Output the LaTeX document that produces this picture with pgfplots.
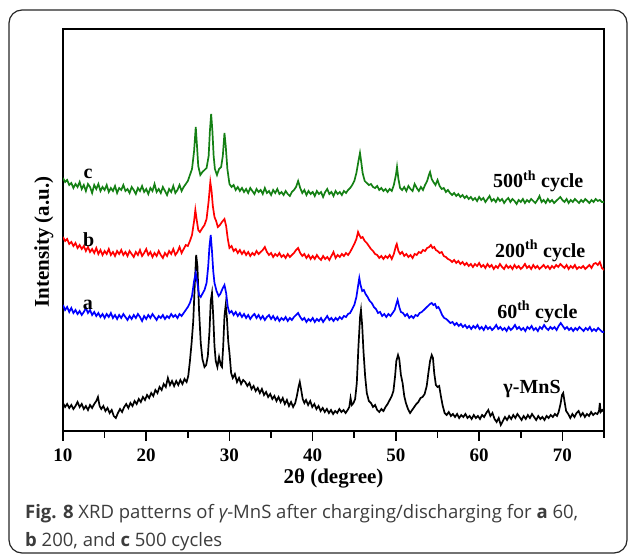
\documentclass[border=0pt]{standalone}
\usepackage{fontspec}
\setmainfont{Liberation Serif}
\newfontfamily\capfont{Open Sans}
\usepackage{pgfplots}
\pgfplotsset{compat=1.18}
\definecolor{cgreen}{RGB}{20,128,20}
\definecolor{cred}{RGB}{255,0,0}
\definecolor{cblue}{RGB}{0,0,255}
\definecolor{capgray}{RGB}{60,60,60}
\begin{document}
\begin{tikzpicture}
\useasboundingbox (0pt,0pt) rectangle (629pt,555pt);
\draw[line width=1.2pt, color=black!85, rounded corners=13pt] (9pt,2pt) rectangle (627pt,545pt);
\foreach \k in {0,...,6} {\fill[black] ({62.2pt+\k*83.23pt},114pt) rectangle ({63.8pt+\k*83.23pt},125pt);}
\foreach \k in {0,...,6} {\fill[black] ({103.8pt+\k*83.23pt},117pt) rectangle ({105.4pt+\k*83.23pt},125pt);}
\begin{axis}[
  at={(63pt,124pt)}, anchor=south west, scale only axis,
  width=541pt, height=402pt,
  xmin=10, xmax=75, ymin=0, ymax=402,
  xtick={10,20,...,70}, minor xtick={15,25,...,75}, ytick=\empty,
  xtick pos=left, tick align=outside,
  major tick length=9pt, minor tick length=6pt,
  xtick style={draw=black, line width=1.5pt},
  axis line style={line width=1.6pt},
  /pgf/number format/assume math mode=true,
  xticklabel style={font=\bfseries\fontsize{19}{22}\selectfont, anchor=base, yshift=-21pt},
  xlabel={2θ (degree)}, ylabel={Intensity (a.u.)},
  xlabel style={font=\bfseries\fontsize{21}{24}\selectfont, at={(axis description cs:0.5,0)}, anchor=base, yshift=-52pt},
  ylabel style={font=\bfseries\fontsize{21}{24}\selectfont, at={(axis description cs:-0.026,0.47)}, anchor=base},
]
\addplot[black, line width=1.7pt] coordinates {(10,28)(10.25,24)(10.5,27)(10.75,23)(11,26)(11.25,22)(11.5,25)(11.75,29)(12,24)(12.25,27)(12.5,22)(12.75,25)(13,21)(13.25,26)(13.5,23)(13.75,27)(14,30)(14.2,34)(14.4,25)(14.6,22)(14.85,25)(15.1,20)(15.35,23)(15.6,18)(15.85,21)(16.1,15)(16.35,13)(16.6,18)(16.85,22)(17.1,19)(17.35,24)(17.6,27)(17.85,23)(18.1,28)(18.35,25)(18.6,30)(18.85,27)(19.1,32)(19.35,29)(19.6,34)(19.85,31)(20.1,36)(20.35,33)(20.6,38)(20.85,35)(21.1,41)(21.35,38)(21.6,44)(21.85,41)(22.1,47)(22.35,44)(22.6,53)(22.85,46)(23.1,50)(23.35,45)(23.6,50)(23.85,46)(24.1,51)(24.35,47)(24.6,52)(24.85,49)(25.05,55)(25.25,70)(25.45,88)(25.65,110)(25.85,150)(26,176)(26.15,165)(26.35,120)(26.55,88)(26.75,72)(27,64)(27.2,66)(27.4,75)(27.6,100)(27.75,130)(27.9,138)(28.05,115)(28.2,85)(28.35,70)(28.55,64)(28.75,74)(28.95,66)(29.1,64)(29.25,85)(29.4,115)(29.55,126)(29.7,112)(29.85,90)(30,78)(30.2,58)(30.4,53)(30.65,57)(30.9,49)(31.15,53)(31.4,47)(31.65,51)(31.9,49)(32.15,45)(32.4,48)(32.65,42)(32.9,45)(33.15,40)(33.4,43)(33.65,38)(33.9,42)(34.15,36)(34.4,39)(34.65,34)(34.9,37)(35.15,32)(35.4,35)(35.65,30)(35.9,34)(36.15,29)(36.4,33)(36.65,27)(36.9,31)(37.15,25)(37.4,29)(37.65,24)(37.9,28)(38.1,35)(38.3,44)(38.45,49)(38.6,42)(38.8,32)(39,28)(39.2,31)(39.45,26)(39.7,30)(39.95,24)(40.2,27)(40.45,22)(40.7,25)(40.95,20)(41.2,23)(41.45,19)(41.7,22)(41.95,18)(42.2,21)(42.45,17)(42.7,20)(42.95,18)(43.2,22)(43.45,19)(43.7,21)(43.95,18)(44.2,21)(44.4,24)(44.55,33)(44.7,26)(44.9,28)(45.1,32)(45.3,48)(45.5,85)(45.7,115)(45.8,121)(45.95,105)(46.1,80)(46.3,55)(46.5,38)(46.75,30)(47,28)(47.25,24)(47.5,26)(47.75,21)(48,19)(48.25,22)(48.5,20)(48.75,24)(49,27)(49.25,31)(49.5,35)(49.7,40)(49.9,55)(50.05,70)(50.25,76)(50.4,72)(50.6,56)(50.8,48)(51,35)(51.2,28)(51.45,22)(51.7,18)(51.95,21)(52.2,24)(52.45,27)(52.7,29)(52.95,33)(53.2,34)(53.45,37)(53.7,45)(53.9,58)(54.1,70)(54.3,76)(54.45,73)(54.6,58)(54.8,46)(55,44)(55.2,45)(55.4,35)(55.6,26)(55.85,18)(56.1,16)(56.35,19)(56.6,15)(56.85,17)(57.1,14)(57.35,17)(57.6,13)(57.85,16)(58.1,14)(58.35,17)(58.6,13)(58.85,15)(59.1,12)(59.35,16)(59.6,13)(59.85,15)(60.1,12)(60.35,16)(60.6,14)(60.85,18)(61.1,21)(61.35,15)(61.6,18)(61.85,12)(62.1,9)(62.35,13)(62.6,6)(62.85,10)(63.1,14)(63.35,11)(63.6,15)(63.85,12)(64.1,16)(64.35,13)(64.6,17)(64.85,14)(65.1,11)(65.35,15)(65.6,12)(65.85,16)(66.1,13)(66.35,17)(66.6,14)(66.85,11)(67.1,15)(67.35,12)(67.6,14)(67.85,11)(68.1,15)(68.35,13)(68.6,16)(68.85,14)(69.1,17)(69.35,15)(69.55,19)(69.8,28)(69.95,36)(70.1,38)(70.25,30)(70.45,20)(70.7,17)(70.95,13)(71.2,17)(71.45,14)(71.7,18)(71.95,20)(72.2,15)(72.45,18)(72.7,14)(72.95,17)(73.2,15)(73.45,19)(73.7,16)(73.95,18)(74.2,17)(74.4,20)(74.5,28)(74.6,19)(74.8,21)(75,19)};
\addplot[cblue, line width=1.7pt] coordinates {(10,126)(10.25,121)(10.5,124)(10.75,119)(11,123)(11.25,118)(11.5,121)(11.75,117)(12,120)(12.25,116)(12.5,119)(12.75,123)(13,118)(13.25,121)(13.5,116)(13.75,119)(14,115)(14.25,118)(14.5,114)(14.75,117)(15,113)(15.25,117)(15.5,114)(15.75,118)(16,113)(16.25,116)(16.5,112)(16.75,116)(17,113)(17.25,117)(17.5,114)(17.75,111)(18,115)(18.25,112)(18.5,116)(18.75,113)(19,117)(19.25,114)(19.5,110)(19.75,115)(20,112)(20.25,116)(20.5,113)(20.75,117)(21,114)(21.25,111)(21.5,115)(21.75,113)(22,116)(22.25,112)(22.5,115)(22.75,113)(23,117)(23.25,114)(23.5,116)(23.75,113)(24,117)(24.25,115)(24.5,118)(24.75,121)(25,124)(25.25,128)(25.5,135)(25.75,150)(25.95,158)(26.15,148)(26.35,136)(26.55,134)(26.8,138)(27,141)(27.25,148)(27.45,165)(27.6,185)(27.75,196)(27.9,180)(28.05,160)(28.2,148)(28.45,140)(28.7,135)(28.9,137)(29.15,142)(29.4,146)(29.6,138)(29.8,124)(30,118)(30.25,120)(30.5,116)(30.75,119)(31,115)(31.25,118)(31.5,114)(31.75,117)(32,113)(32.25,116)(32.5,112)(32.75,115)(33,117)(33.25,113)(33.5,116)(33.75,112)(34,115)(34.25,111)(34.5,114)(34.75,116)(35,112)(35.25,115)(35.5,111)(35.75,114)(36,110)(36.25,113)(36.5,111)(36.75,114)(37,110)(37.25,113)(37.5,111)(37.75,114)(38,116)(38.25,118)(38.5,114)(38.75,111)(39,113)(39.25,109)(39.5,112)(39.75,110)(40,113)(40.25,109)(40.5,112)(40.75,110)(41,113)(41.25,109)(41.5,112)(41.75,115)(42,111)(42.25,113)(42.5,110)(42.75,113)(43,111)(43.25,114)(43.5,112)(43.75,115)(44,114)(44.25,117)(44.5,118)(44.75,122)(45,126)(45.25,134)(45.45,145)(45.6,153)(45.75,146)(45.95,140)(46.15,141)(46.35,137)(46.6,134)(46.85,130)(47.1,128)(47.35,124)(47.6,122)(47.85,118)(48.1,119)(48.35,115)(48.6,117)(48.85,114)(49.1,117)(49.35,115)(49.6,118)(49.85,121)(50.05,127)(50.2,131)(50.4,124)(50.6,119)(50.85,118)(51.1,115)(51.35,117)(51.6,113)(51.85,115)(52.1,113)(52.35,116)(52.6,115)(52.85,118)(53.1,119)(53.35,121)(53.6,123)(53.85,125)(54.1,127)(54.3,128)(54.5,126)(54.7,127)(54.9,123)(55.1,124)(55.3,121)(55.55,116)(55.8,113)(56.05,112)(56.3,110)(56.55,108)(56.8,109)(57.05,106)(57.3,108)(57.55,105)(57.8,107)(58.05,104)(58.3,106)(58.55,103)(58.8,105)(59.05,102)(59.3,105)(59.55,103)(59.8,106)(60.05,102)(60.3,104)(60.55,101)(60.8,105)(61.05,102)(61.3,104)(61.55,101)(61.8,103)(62.05,106)(62.3,102)(62.55,104)(62.8,101)(63.05,103)(63.3,100)(63.55,104)(63.8,101)(64.05,103)(64.3,106)(64.55,102)(64.8,104)(65.05,101)(65.3,103)(65.55,100)(65.8,104)(66.05,102)(66.3,105)(66.55,101)(66.8,103)(67.05,100)(67.3,104)(67.55,102)(67.8,106)(68.05,103)(68.3,101)(68.55,104)(68.8,102)(69.05,104)(69.3,101)(69.55,105)(69.8,108)(70.05,105)(70.3,102)(70.55,104)(70.8,101)(71.05,103)(71.3,100)(71.55,103)(71.8,101)(72.05,104)(72.3,102)(72.55,100)(72.8,103)(73.05,101)(73.3,104)(73.55,100)(73.8,102)(74.05,100)(74.3,103)(74.55,101)(74.8,99)(75,99)};
\addplot[cred, line width=1.7pt] coordinates {(10,194)(10.25,190)(10.5,192)(10.75,187)(11,189)(11.25,185)(11.5,188)(11.75,183)(12,186)(12.25,182)(12.5,185)(12.75,180)(13,184)(13.25,179)(13.5,182)(13.75,178)(14,183)(14.25,177)(14.5,181)(14.75,176)(15,180)(15.25,177)(15.5,182)(15.75,176)(16,179)(16.25,175)(16.5,180)(16.75,177)(17,181)(17.25,176)(17.5,179)(17.75,175)(18,180)(18.25,177)(18.5,174)(18.75,179)(19,176)(19.25,181)(19.5,175)(19.75,178)(20,182)(20.25,176)(20.5,179)(20.75,174)(21,178)(21.25,175)(21.5,180)(21.75,176)(22,173)(22.25,178)(22.5,175)(22.75,180)(23,177)(23.25,182)(23.5,176)(23.75,179)(24,184)(24.25,178)(24.5,182)(24.75,186)(25,185)(25.25,190)(25.5,196)(25.75,210)(25.9,221)(26.05,212)(26.25,201)(26.45,199)(26.75,203)(27,206)(27.25,212)(27.5,230)(27.7,249)(27.85,240)(28,225)(28.2,214)(28.4,210)(28.6,204)(28.85,206)(29.1,209)(29.4,212)(29.6,205)(29.8,192)(30,183)(30.25,185)(30.5,180)(30.75,182)(31,178)(31.25,181)(31.5,177)(31.75,180)(32,176)(32.25,179)(32.5,175)(32.75,178)(33,176)(33.25,180)(33.5,177)(33.75,179)(34,181)(34.25,184)(34.5,179)(34.75,176)(35,178)(35.25,174)(35.5,177)(35.75,175)(36,178)(36.25,174)(36.5,176)(36.75,173)(37,177)(37.25,174)(37.5,176)(37.75,178)(38,181)(38.25,183)(38.5,178)(38.75,175)(39,177)(39.25,173)(39.5,176)(39.75,172)(40,175)(40.25,172)(40.5,176)(40.75,173)(41,171)(41.25,175)(41.5,172)(41.75,174)(42,171)(42.25,175)(42.5,179)(42.75,173)(43,176)(43.25,174)(43.5,177)(43.75,175)(44,178)(44.25,176)(44.5,179)(44.75,183)(45,187)(45.25,192)(45.45,199)(45.6,196)(45.8,193)(46,194)(46.25,190)(46.5,188)(46.75,185)(47,182)(47.25,180)(47.5,177)(47.75,176)(48,173)(48.25,175)(48.5,172)(48.75,175)(49,173)(49.25,176)(49.5,172)(49.75,177)(50,185)(50.1,187)(50.3,180)(50.5,177)(50.75,179)(51,175)(51.25,177)(51.5,174)(51.75,176)(52,173)(52.25,177)(52.5,176)(52.75,179)(53,178)(53.25,181)(53.5,180)(53.75,183)(54,184)(54.2,186)(54.4,183)(54.6,184)(54.8,181)(55,180)(55.25,178)(55.5,179)(55.75,175)(56,174)(56.25,172)(56.5,171)(56.75,169)(57,171)(57.25,168)(57.5,170)(57.75,167)(58,169)(58.25,166)(58.5,168)(58.75,165)(59,167)(59.25,164)(59.5,167)(59.75,165)(60,168)(60.25,164)(60.5,166)(60.75,163)(61,167)(61.25,164)(61.5,166)(61.75,162)(62,165)(62.25,163)(62.5,167)(62.75,164)(63,162)(63.25,166)(63.5,163)(63.75,165)(64,162)(64.25,166)(64.5,163)(64.75,165)(65,162)(65.25,164)(65.5,167)(65.75,163)(66,165)(66.25,162)(66.5,166)(66.75,163)(67,165)(67.25,162)(67.5,164)(67.75,166)(68,163)(68.25,165)(68.5,162)(68.75,165)(69,163)(69.25,166)(69.5,164)(69.75,167)(70,165)(70.25,163)(70.5,166)(70.75,162)(71,165)(71.25,163)(71.5,166)(71.75,162)(72,164)(72.25,163)(72.5,165)(72.75,162)(73,164)(73.25,166)(73.5,163)(73.75,167)(74,168)(74.25,166)(74.5,169)(74.75,163)(75,161)};
\addplot[cgreen, line width=1.7pt] coordinates {(10,253)(10.25,249)(10.5,251)(10.75,246)(11,248)(11.25,243)(11.5,247)(11.75,244)(12,249)(12.25,242)(12.5,246)(12.75,240)(13,247)(13.25,244)(13.5,238)(13.75,246)(14,242)(14.25,247)(14.5,240)(14.75,244)(15,241)(15.25,246)(15.5,239)(15.75,243)(16,240)(16.25,245)(16.5,238)(16.75,243)(17,241)(17.25,246)(17.5,240)(17.75,242)(18,238)(18.25,244)(18.5,241)(18.75,237)(19,243)(19.25,240)(19.5,245)(19.75,239)(20,242)(20.25,237)(20.5,243)(20.75,240)(21,247)(21.25,239)(21.5,242)(21.75,238)(22,244)(22.25,240)(22.5,236)(22.75,242)(23,239)(23.25,245)(23.5,238)(23.75,241)(24,246)(24.25,240)(24.5,244)(24.75,247)(25,250)(25.25,256)(25.5,262)(25.75,280)(25.95,304)(26.1,285)(26.25,265)(26.5,256)(26.75,259)(27,261)(27.25,263)(27.5,275)(27.65,300)(27.8,317)(27.95,300)(28.1,275)(28.25,262)(28.5,256)(28.75,262)(29,264)(29.2,275)(29.4,298)(29.55,285)(29.75,262)(30,247)(30.25,244)(30.5,246)(30.75,241)(31,244)(31.25,240)(31.5,243)(31.75,239)(32,242)(32.25,238)(32.5,243)(32.75,240)(33,237)(33.25,242)(33.5,239)(33.75,241)(34,237)(34.25,243)(34.5,238)(34.75,240)(35,236)(35.25,241)(35.5,238)(35.75,242)(36,237)(36.25,239)(36.5,236)(36.75,240)(37,237)(37.25,235)(37.5,239)(37.75,241)(38,244)(38.25,250)(38.5,243)(38.75,238)(39,241)(39.25,236)(39.5,240)(39.75,237)(40,239)(40.25,235)(40.5,240)(40.75,237)(41,239)(41.25,234)(41.5,239)(41.75,242)(42,237)(42.25,239)(42.5,235)(42.75,240)(43,237)(43.25,239)(43.5,236)(43.75,240)(44,238)(44.25,241)(44.5,243)(44.75,246)(45,250)(45.25,258)(45.5,270)(45.68,278)(45.85,268)(46,258)(46.25,250)(46.5,248)(46.75,246)(47,247)(47.25,244)(47.5,243)(47.75,245)(48,241)(48.25,243)(48.5,240)(48.75,242)(49,239)(49.25,242)(49.5,240)(49.75,246)(50,256)(50.13,264)(50.3,252)(50.5,243)(50.75,241)(51,244)(51.25,240)(51.5,245)(51.75,242)(52,240)(52.25,247)(52.5,243)(52.75,240)(53,244)(53.25,241)(53.5,246)(53.75,250)(54,257)(54.1,259)(54.3,252)(54.5,249)(54.75,246)(55,251)(55.25,245)(55.5,242)(55.75,243)(56,239)(56.25,241)(56.5,238)(56.75,236)(57,238)(57.25,235)(57.5,237)(57.75,234)(58,236)(58.25,233)(58.5,235)(58.75,232)(59,234)(59.25,231)(59.5,233)(59.75,230)(60,234)(60.25,231)(60.5,233)(60.75,229)(61,232)(61.25,235)(61.5,230)(61.75,232)(62,229)(62.25,233)(62.5,230)(62.75,232)(63,228)(63.25,231)(63.5,233)(63.75,229)(64,232)(64.25,230)(64.5,227)(64.75,231)(65,229)(65.25,232)(65.5,228)(65.75,231)(66,229)(66.25,232)(66.5,230)(66.75,228)(67,231)(67.25,235)(67.5,229)(67.75,231)(68,228)(68.25,232)(68.5,229)(68.75,231)(69,228)(69.25,230)(69.5,232)(69.75,234)(70,231)(70.25,229)(70.5,232)(70.75,228)(71,231)(71.25,229)(71.5,232)(71.75,230)(72,228)(72.25,231)(72.5,229)(72.75,232)(73,230)(73.25,228)(73.5,231)(73.75,229)(74,232)(74.25,230)(74.5,231)(74.75,229)(75,229)};
\node[anchor=base, font=\bfseries\fontsize{20}{24}\selectfont] at (axis cs:13.0,252) {c};
\node[anchor=base, font=\bfseries\fontsize{20}{24}\selectfont] at (axis cs:13.1,184) {b};
\node[anchor=base, font=\bfseries\fontsize{20}{24}\selectfont] at (axis cs:13.0,122) {a};
\node[anchor=base west, inner sep=0pt, font=\bfseries\fontsize{20}{24}\selectfont] at (axis cs:61.66,243) {500\textsuperscript{th} cycle};
\node[anchor=base west, inner sep=0pt, font=\bfseries\fontsize{20}{24}\selectfont] at (axis cs:61.9,174) {200\textsuperscript{th} cycle};
\node[anchor=base west, inner sep=0pt, font=\bfseries\fontsize{20}{24}\selectfont] at (axis cs:62.15,113) {60\textsuperscript{th} cycle};
\node[anchor=base west, inner sep=0pt, font=\bfseries\fontsize{20}{24}\selectfont] at (axis cs:62.9,38) {γ-MnS};
\end{axis}
\node[anchor=base west, inner sep=0pt, text=capgray, font=\capfont\fontsize{18.5}{22}\selectfont] at (25pt,37pt) {{\bfseries Fig. 8} XRD patterns of {\itshape γ}-MnS after charging/discharging for {\bfseries a} 60,};
\node[anchor=base west, inner sep=0pt, text=capgray, font=\capfont\fontsize{18.5}{22}\selectfont] at (25pt,9pt) {{\bfseries b} 200, and {\bfseries c} 500 cycles};
\end{tikzpicture}
\end{document}
